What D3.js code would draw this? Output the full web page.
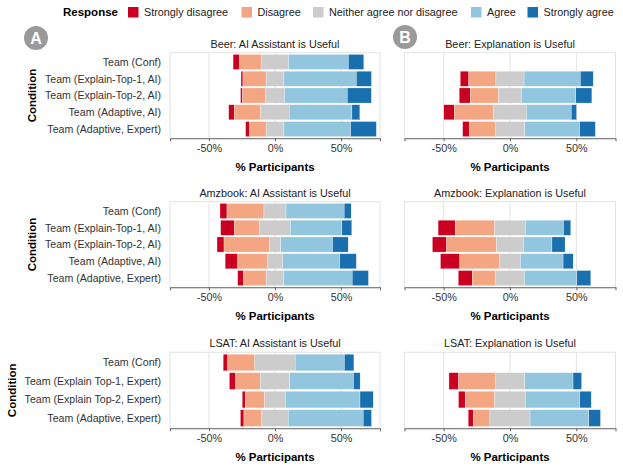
<!DOCTYPE html>
<html>
<head>
<meta charset="utf-8">
<script src="https://cdn.jsdelivr.net/npm/d3@7"></script>
<style>
  body { margin: 0; background: #fff; }
  text { font-family: "Liberation Sans", Arial, Helvetica, sans-serif; }
</style>
</head>
<body>
<div id="chart"></div>
<script>
var responses = ["Strongly disagree", "Disagree", "Neither agree nor disagree", "Agree", "Strongly agree"];
var colors = ["#ca0020", "#f4a582", "#cccccc", "#92c5de", "#1a6faf"];

var condBeer = ["Team (Conf)", "Team (Explain-Top-1, AI)", "Team (Explain-Top-2, AI)", "Team (Adaptive, AI)", "Team (Adaptive, Expert)"];
var condLsat = ["Team (Conf)", "Team (Explain Top-1, Expert)", "Team (Explain Top-2, Expert)", "Team (Adaptive, Expert)"];
var xTicks = [-50, 0, 50];

// % of participants per response, one row per condition (null = not asked)
var beerAI = [[5, 16.5, 20.5, 45.3, 11.7], [1.5, 17.5, 13.5, 54.8, 11.5], [1.5, 17.3, 14.5, 47.5, 18.2], [4.3, 20, 21.5, 47.5, 6], [3, 12.5, 13.5, 50.5, 19.5]];
var beerExpl = [null, [6.5, 20.4, 21.2, 42.4, 9.7], [8.3, 21.4, 17.2, 41, 12.1], [7.8, 29.7, 24.7, 33.8, 4], [5.1, 19.4, 22.4, 41.3, 11.8]];
var amzAI = [[5.3, 28, 16.7, 44, 5.3], [10.5, 19, 23.3, 39, 7.5], [5.3, 34.2, 8.8, 39.2, 11.8], [9.5, 22.5, 11.5, 43.3, 12.5], [4.5, 17, 13.5, 51.7, 12.3]];
var amzExpl = [null, [12.9, 29.7, 23.2, 28.7, 5.5], [10.8, 37.5, 20.4, 21.4, 9.9], [14.6, 30, 15.6, 32.2, 7.6], [10.5, 17.7, 21.6, 39.6, 10.5]];
var lsatAI = [[3.5, 20.5, 30.5, 37.3, 7.2], [4.8, 18.5, 22.5, 48.2, 5], [2.5, 14.5, 15.7, 56.5, 10], [2.7, 13.5, 20, 56.8, 6.3]];
var lsatExpl = [null, [7.3, 27.5, 22.4, 36.3, 6.5], [5, 22.2, 23.2, 41, 8.6], [3.8, 12.6, 30.2, 44.3, 8.8]];

var rows = [
  { top: 52.7, bottom: 138.3, cond: condBeer, titles: ["Beer: AI Assistant is Useful", "Beer: Explanation is Useful"], data: [beerAI, beerExpl], condX: 32 },
  { top: 201.7, bottom: 287.3, cond: condBeer, titles: ["Amzbook: AI Assistant is Useful", "Amzbook: Explanation is Useful"], data: [amzAI, amzExpl], condX: 32 },
  { top: 352.3, bottom: 428.3, cond: condLsat, titles: ["LSAT: AI Assistant is Useful", "LSAT: Explanation is Useful"], data: [lsatAI, lsatExpl], condX: 12 }
];
var cols = [[170, 380], [404.5, 615.5]];

var svg = d3.select("#chart").append("svg")
    .attr("width", 623)
    .attr("height", 467);

// legend
var leg = svg.append("g");
var swX = [128, 241.5, 313, 471, 527.5];
leg.append("text").text("Response")
    .attr("x", 63).attr("y", 16)
    .attr("font-size", 11.5).attr("font-weight", "bold");
responses.forEach(function (r, i) {
  leg.append("rect").attr("x", swX[i]).attr("y", 7).attr("width", 10.5).attr("height", 10.5).attr("fill", colors[i]);
  leg.append("text").text(r).attr("x", swX[i] + 16).attr("y", 16)
      .attr("font-size", 10.8).attr("fill", "#222");
});

// badges
[["A", 36, 38], ["B", 405, 37]].forEach(function (b) {
  svg.append("circle").attr("cx", b[1]).attr("cy", b[2]).attr("r", 12).attr("fill", "#9a9a9a");
  svg.append("text").text(b[0]).attr("x", b[1]).attr("y", b[2] + 5.5)
      .attr("text-anchor", "middle").attr("font-size", 16).attr("font-weight", "bold").attr("fill", "#fff");
});

rows.forEach(function (row) {
  var y = d3.scaleBand().domain(row.cond).range([row.top, row.bottom]).paddingInner(0.1).paddingOuter(0.1);

  cols.forEach(function (c, ci) {
    var x = d3.scaleLinear().domain([-79.5, 79.5]).range(c);
    var g = svg.append("g");

    // grid
    g.selectAll(".grid").data(xTicks).enter().append("line")
        .attr("x1", d => x(d)).attr("x2", d => x(d))
        .attr("y1", row.top).attr("y2", row.bottom)
        .attr("stroke", "#e3e3e3").attr("stroke-width", 1);
    g.append("rect").attr("x", c[0]).attr("y", row.top)
        .attr("width", c[1] - c[0]).attr("height", row.bottom - row.top)
        .attr("fill", "none").attr("stroke", "#e3e3e3").attr("stroke-width", 1);

    // bars
    var data = row.data[ci];
    data.forEach(function (vals, ri) {
      if (!vals) return;
      var start = -(vals[0] + vals[1] + vals[2] / 2);
      var segs = vals.map(function (v, k) {
        var s = start; start += v;
        return { x0: s, x1: start, k: k };
      });
      g.selectAll(null).data(segs).enter().append("rect")
          .attr("x", d => x(d.x0))
          .attr("width", d => x(d.x1) - x(d.x0))
          .attr("y", y(row.cond[ri]))
          .attr("height", y.bandwidth())
          .attr("fill", d => colors[d.k])
          .attr("stroke", "#fff").attr("stroke-width", 0.3);
    });

    // x axis
    var ax = g.append("g").attr("transform", "translate(0," + row.bottom + ")")
        .call(d3.axisBottom(x).tickValues(xTicks).tickSize(3).tickPadding(3).tickFormat(d => d + "%"));
    ax.select(".domain").attr("stroke", "#666").attr("stroke-width", 1.1);
    ax.selectAll(".tick line").attr("stroke", "#666");
    ax.selectAll(".tick text").attr("font-size", 10.8).attr("fill", "#333")
        .attr("font-family", "'Liberation Sans', Arial, sans-serif");

    g.append("text").text("% Participants")
        .attr("x", (c[0] + c[1]) / 2).attr("y", row.bottom + 32.5)
        .attr("text-anchor", "middle").attr("font-size", 11.5).attr("font-weight", "bold");

    g.append("text").text(row.titles[ci])
        .attr("x", (c[0] + c[1]) / 2).attr("y", row.top - 5)
        .attr("text-anchor", "middle").attr("font-size", 10.8).attr("fill", "#222");

    if (ci === 0) {
      g.selectAll(".ylab").data(row.cond).enter().append("text")
          .text(d => d)
          .attr("x", 161).attr("y", d => y(d) + y.bandwidth() / 2 + 3.8)
          .attr("text-anchor", "end").attr("font-size", 10.6).attr("fill", "#333");
      g.append("text").text("Condition")
          .attr("transform", "translate(" + (row.condX + 4) + "," + ((row.top + row.bottom) / 2) + ") rotate(-90)")
          .attr("text-anchor", "middle").attr("font-size", 11.5).attr("font-weight", "bold");
    }
  });
});
</script>
</body>
</html>
